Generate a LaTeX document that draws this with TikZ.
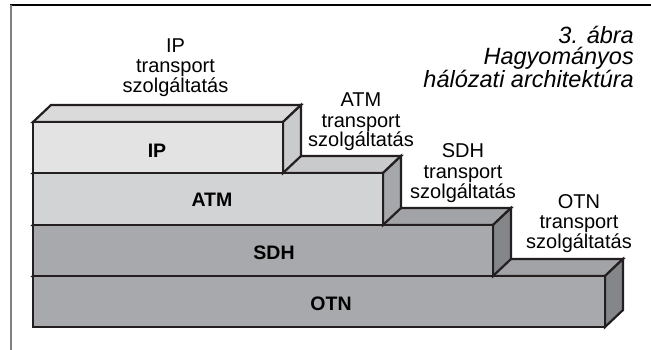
\documentclass[tikz,border=0pt]{standalone}
\usepackage{fontspec}
\setmainfont{Liberation Sans}
\definecolor{edgecol}{HTML}{231F20}
\definecolor{ipfront}{HTML}{E3E3E4}
\definecolor{iptop}{HTML}{DADADB}
\definecolor{ipside}{HTML}{CACBCD}
\definecolor{atmfront}{HTML}{D2D3D5}
\definecolor{atmtop}{HTML}{C9CACC}
\definecolor{atmside}{HTML}{A6A7AA}
\definecolor{lowfront}{HTML}{A8A9AC}
\definecolor{lowtop}{HTML}{A2A3A6}
\definecolor{lowside}{HTML}{85868A}
\tikzset{
  edge/.style={draw=edgecol, line width=2.2pt, line join=miter},
  caption/.style={font=\fontsize{20}{20}\selectfont, align=center, inner sep=0pt, anchor=base},
  layername/.style={font=\bfseries\fontsize{19.5}{20}\selectfont, inner sep=0pt, anchor=base},
}
% one slab: left x, front top y, right x, bottom y, front, top and side colours
\newcommand\slab[7]{%
  \filldraw[edge, fill=#6] (#1,#2) -- (#1+18,#2-17) -- (#3+18,#2-17) -- (#3,#2) -- cycle;
  \filldraw[edge, fill=#7] (#3,#2) -- (#3+18,#2-17) -- (#3+18,#4-17) -- (#3,#4) -- cycle;
  \filldraw[edge, fill=#5] (#1,#2) rectangle (#3,#4);
}
\begin{document}
\begin{tikzpicture}[x=1pt, y=-1pt]
\useasboundingbox (0,0) rectangle (651,350);
% frame
\draw[black, line width=1.4pt] (10,5) -- (651,5);
\draw[black!50, line width=1.7pt] (11,5) -- (11,350);
% title (anchored at the baseline of its last line)
\node[font=\itshape\fontsize{23.5}{21.5}\selectfont, align=right, inner sep=0pt, anchor=base east]
  (title) at (634,88) {3. ábra\\Hagyományos\\hálózati architektúra};
% stacked layers, bottom first
\slab{33}{276}{605}{327}{lowfront}{lowtop}{lowside}
\slab{33}{225}{493}{276}{lowfront}{lowtop}{lowside}
\slab{33}{173}{383}{225}{atmfront}{atmtop}{atmside}
\slab{33}{122}{283}{173}{ipfront}{iptop}{ipside}
% layer names
\node[layername] (otn) at (331,310) {OTN};
\node[layername] (sdh) at (274,259) {SDH};
\node[layername] (atm) at (212,207) {ATM};
\node[layername] (ip)  at (157,158) {IP};
% service captions (anchored at the baseline of the last line)
\node[caption] (ipsvc)  at (175.5,93) {IP\\transport\\szolgáltatás};
\node[caption] (atmsvc) at (361,147) {ATM\\transport\\szolgáltatás};
\node[caption] (sdhsvc) at (463,198) {SDH\\transport\\szolgáltatás};
\node[caption] (otnsvc) at (579,248) {OTN\\transport\\szolgáltatás};
\end{tikzpicture}
\end{document}
